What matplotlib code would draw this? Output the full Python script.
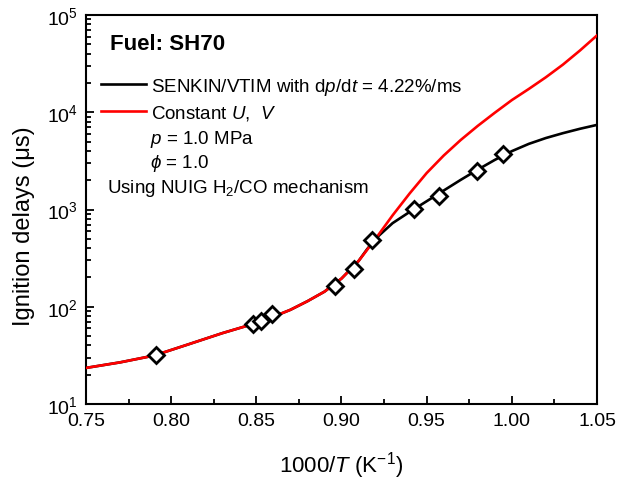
import matplotlib
matplotlib.use("Agg")
import matplotlib.pyplot as plt
from matplotlib.ticker import MultipleLocator, LogLocator, NullFormatter, FormatStrFormatter

plt.rcParams['font.family'] = ['Liberation Sans', 'DejaVu Sans']
plt.rcParams['mathtext.fontset'] = 'custom'
plt.rcParams['mathtext.rm'] = 'Liberation Sans'
plt.rcParams['mathtext.it'] = 'Liberation Sans:italic'
plt.rcParams['mathtext.bf'] = 'Liberation Sans:bold'

# Experimental points (1000/T, ignition delay in microseconds)
exp_x = [0.791, 0.848, 0.853, 0.859, 0.896, 0.9075, 0.918, 0.9426, 0.957, 0.9794, 0.995]
exp_y = [31.9, 66.5, 72, 84, 165, 244, 485, 1012, 1368, 2505, 3724]

# Constant U, V simulation (red)
red_x = [0.75, 0.77, 0.79, 0.81, 0.83, 0.85, 0.86, 0.87, 0.88, 0.89, 0.90, 0.91,
         0.92, 0.93, 0.94, 0.95, 0.96, 0.97, 0.98, 0.99, 1.00, 1.01, 1.02, 1.03,
         1.04, 1.05]
red_y = [23.5, 26.8, 31.5, 41, 53.5, 68, 79, 93, 114, 143, 195, 295,
         500, 871, 1462, 2371, 3589, 5188, 7244, 9886, 13335, 17378, 22909, 30903,
         43152, 61660]

# SENKIN/VTIM simulation (black)
blk_x = [0.75, 0.77, 0.79, 0.81, 0.83, 0.85, 0.86, 0.87, 0.88, 0.89, 0.90, 0.91,
         0.915, 0.92, 0.93, 0.94, 0.95, 0.96, 0.97, 0.98, 0.99, 1.00, 1.01, 1.02,
         1.03, 1.04, 1.05]
blk_y = [23.5, 26.8, 31.5, 41, 53.5, 68, 79, 93, 114, 143, 195, 295,
         390, 501, 724, 944, 1216, 1567, 2018, 2570, 3236, 3981, 4732, 5433,
         6095, 6761, 7413]

fig = plt.figure(figsize=(6.18, 4.85), dpi=100)
ax = fig.add_axes([86/618, 80/485, (597-86)/618, (405-16)/485])

ax.plot(blk_x, blk_y, color='black', lw=1.9,
        label='SENKIN/VTIM with d$p$/d$t$ = 4.22%/ms', zorder=2)
ax.plot(red_x, red_y, color='#ff0000', lw=1.9, label='Constant $U$,  $V$', zorder=3)
ax.plot(exp_x, exp_y, linestyle='none', marker='D', markersize=8.5,
        markerfacecolor='white', markeredgecolor='black', markeredgewidth=2,
        zorder=4)

ax.set_yscale('log')
ax.set_xlim(0.75, 1.05)
ax.set_ylim(10, 1e5)
ax.xaxis.set_major_locator(MultipleLocator(0.05))
ax.xaxis.set_minor_locator(MultipleLocator(0.025))
ax.yaxis.set_major_locator(LogLocator(base=10))
ax.yaxis.set_minor_locator(LogLocator(base=10, subs=range(2, 10)))
ax.yaxis.set_minor_formatter(NullFormatter())
ax.xaxis.set_major_formatter(FormatStrFormatter('%.2f'))

ax.tick_params(which='both', direction='in', top=False, right=False,
               labelsize=14, width=1.3)
ax.tick_params(which='major', length=6, pad=6)
ax.tick_params(which='minor', length=3.5)
for s in ax.spines.values():
    s.set_linewidth(1.5)

ax.set_xlabel('1000/$T$ (K$^{-1}$)', fontsize=16, labelpad=14)
ax.set_ylabel('Ignition delays (\u03bcs)', fontsize=17)
ax.yaxis.set_label_coords(-0.1, 0.46)

ax.text(110, 485-45, 'Fuel: SH70', transform=None, fontsize=16,
        fontweight='bold', va='center', ha='left')

leg = ax.legend(loc='upper left', bbox_to_anchor=((101-86)/511, (405-77)/389),
                frameon=False, fontsize=13.5, handlelength=2.4, handletextpad=0.25,
                labelspacing=0.3, borderaxespad=0, borderpad=0)

ax.text(150, 485-140, '$p$ = 1.0 MPa', transform=None, fontsize=13.5, va='center', ha='left')
ax.text(150, 485-164, '$\\phi$ = 1.0', transform=None, fontsize=13.5, va='center', ha='left')
ax.text(107, 485-189, 'Using NUIG H$_2$/CO mechanism', transform=None, fontsize=13.5,
        va='center', ha='left')

fig.savefig('out.png', dpi=100)
